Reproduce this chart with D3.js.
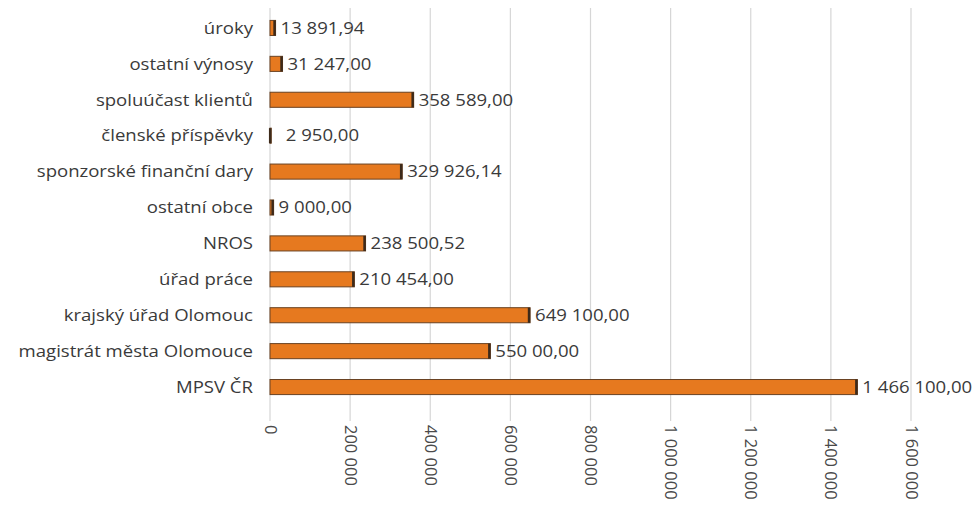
<!DOCTYPE html>
<html>
<head>
<meta charset="utf-8">
<script src="https://cdn.jsdelivr.net/npm/d3@7"></script>
<style>
  html, body { margin: 0; padding: 0; background: #fff; }
  svg { display: block; font-family: "Open Sans", "Liberation Sans", sans-serif; }
</style>
</head>
<body>
<svg id="chart" width="975" height="507"></svg>
<script>
const categories = [
  "úroky",
  "ostatní výnosy",
  "spoluúčast klientů",
  "členské příspěvky",
  "sponzorské finanční dary",
  "ostatní obce",
  "NROS",
  "úřad práce",
  "krajský úřad Olomouc",
  "magistrát města Olomouce",
  "MPSV ČR"
];
const amounts = [13891.94, 31247, 358589, 2950, 329926.14, 9000, 238500.52, 210454, 649100, 550000, 1466100];
// labels as printed in the source (incl. its "550 00,00")
const valueLabels = [
  "13 891,94", "31 247,00", "358 589,00", "\u00a0\u00a02 950,00", "329 926,14", "9 000,00",
  "238 500,52", "210 454,00", "649 100,00", "550 00,00", "1 466 100,00"
];
const tickValues = [0, 200000, 400000, 600000, 800000, 1000000, 1200000, 1400000, 1600000];

(function drawChart() {
  const svg = d3.select("#chart");
  const margin = { left: 270, right: 911, top: 10, bottom: 405 };
  const stretch = 1.16; // source text looks horizontally widened

  const x = d3.scaleLinear().domain([0, 1600000]).range([margin.left, margin.right]);
  const y = d3.scaleBand().domain(categories).range([margin.top, margin.bottom]).paddingInner(0.58).paddingOuter(0.29);

  const fmt = v => d3.format(",")(v).replace(/,/g, " ");

  // gridlines
  svg.append("g")
    .selectAll("line")
    .data(tickValues)
    .join("line")
    .attr("x1", d => x(d)).attr("x2", d => x(d))
    .attr("y1", 8).attr("y2", 421)
    .attr("stroke", "#d6d6d6")
    .attr("stroke-width", 1.2);

  // x axis labels, rotated
  const xAxis = svg.append("g")
    .attr("transform", `translate(0,420)`)
    .call(d3.axisBottom(x).tickValues(tickValues).tickFormat(fmt).tickSize(0).tickPadding(0));
  xAxis.select(".domain").remove();
  xAxis.selectAll("text")
    .attr("y", 0)
    .attr("x", 5)
    .attr("dy", "0.36em")
    .attr("transform", "rotate(90)")
    .attr("text-anchor", "start")
    .style("font-family", "'Open Sans', sans-serif")
    .style("font-size", "16.5px")
    .attr("fill", "#4a4a4a");

  // category labels
  const yAxis = svg.append("g")
    .attr("transform", `translate(${margin.left - 17},0)`)
    .call(d3.axisLeft(y).tickSize(0).tickPadding(0));
  yAxis.select(".domain").remove();
  yAxis.selectAll("text")
    .attr("x", 0)
    .attr("dy", "0.36em")
    .attr("transform", `scale(${stretch},1)`)
    .style("font-family", "'Open Sans', sans-serif")
    .style("font-size", "16px")
    .attr("fill", "#3a3a3a");

  // bars
  const bars = svg.append("g");
  bars.selectAll("rect")
    .data(amounts)
    .join("rect")
    .attr("x", x(0))
    .attr("y", (d, i) => y(categories[i]))
    .attr("width", d => Math.max(1, x(d) - x(0)))
    .attr("height", y.bandwidth())
    .attr("fill", "#e6791f")
    .attr("stroke", "#6a4222")
    .attr("stroke-width", 1);

  // dark right edge
  bars.selectAll("line")
    .data(amounts)
    .join("line")
    .attr("x1", d => x(d) - 1).attr("x2", d => x(d) - 1)
    .attr("y1", (d, i) => y(categories[i]))
    .attr("y2", (d, i) => y(categories[i]) + y.bandwidth())
    .attr("stroke", "#3d2a1a")
    .attr("stroke-width", 2.5);

  // value labels
  svg.append("g")
    .selectAll("text")
    .data(amounts)
    .join("text")
    .attr("transform", (d, i) =>
      `translate(${x(d) + 5},${y(categories[i]) + y.bandwidth() / 2}) scale(${stretch},1)`)
    .attr("dy", "0.36em")
    .style("font-size", "16px")
    .attr("fill", "#3a3a3a")
    .text((d, i) => valueLabels[i]);
})();
</script>
</body>
</html>
